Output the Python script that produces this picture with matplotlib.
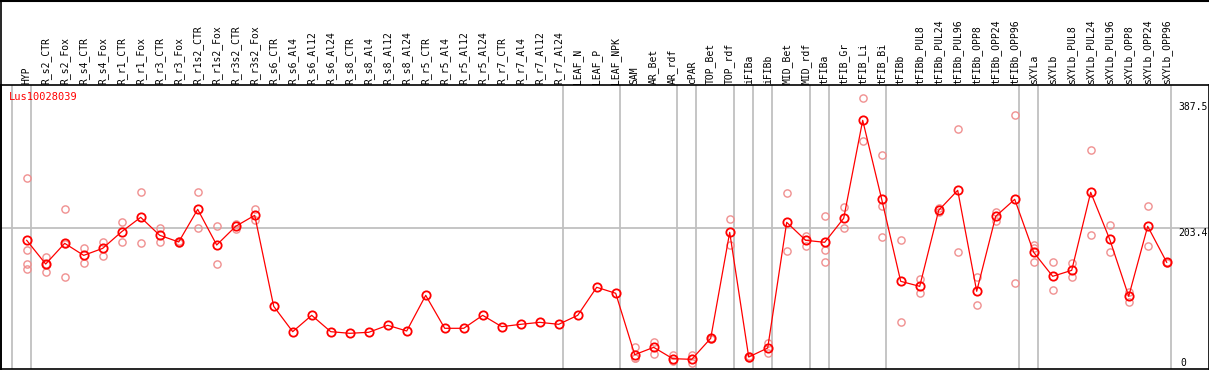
import matplotlib
matplotlib.use("Agg")
import matplotlib.pyplot as plt
from matplotlib.lines import Line2D

# sample names (x categories)
samples = ["HYP", "R_s2_CTR", "R_s2_Fox", "R_s4_CTR", "R_s4_Fox", "R_r1_CTR", "R_r1_Fox",
           "R_r3_CTR", "R_r3_Fox", "R_r1s2_CTR", "R_r1s2_Fox", "R_r3s2_CTR", "R_r3s2_Fox",
           "R_s6_CTR", "R_s6_Al4", "R_s6_Al12", "R_s6_Al24", "R_s8_CTR", "R_s8_Al4",
           "R_s8_Al12", "R_s8_Al24", "R_r5_CTR", "R_r5_Al4", "R_r5_Al12", "R_r5_Al24",
           "R_r7_CTR", "R_r7_Al4", "R_r7_Al12", "R_r7_Al24", "LEAF_N", "LEAF_P", "LEAF_NPK",
           "SAM", "AR_Bet", "AR_rdf", "cPAR", "TOP_Bet", "TOP_rdf", "iFIBa", "iFIBb",
           "MID_Bet", "MID_rdf", "tFIBa", "tFIB_Gr", "tFIB_Li", "tFIB_Bi", "tFIBb",
           "tFIBb_PUL8", "tFIBb_PUL24", "tFIBb_PUL96", "tFIBb_OPP8", "tFIBb_OPP24",
           "tFIBb_OPP96", "sXYLa", "sXYLb", "sXYLb_PUL8", "sXYLb_PUL24", "sXYLb_PUL96",
           "sXYLb_OPP8", "sXYLb_OPP24", "sXYLb_OPP96"]

# mean expression per sample
means = [185.9, 151.4, 181.5, 164.0, 174.2, 198.5, 219.4, 193.2, 183.5, 231.0, 179.1,
         206.3, 222.3, 89.8, 52.9, 76.7, 52.9, 50.5, 52.0, 62.2, 53.9, 105.8, 57.8, 57.8,
         76.7, 60.2, 63.6, 66.5, 63.6, 76.7, 117.5, 108.8, 19.4, 30.1, 13.6, 12.6, 43.2,
         197.5, 16.0, 29.1, 212.1, 185.9, 183.0, 218.0, 360.6, 245.6, 126.2, 118.9, 229.6,
         258.7, 111.7, 220.8, 245.6, 168.4, 133.5, 142.2, 255.8, 187.4, 104.4, 206.3, 153.9]

# individual replicates
replicates = [
    [276.2, 172.3, 151.9, 143.7], [161.2, 151.0, 140.2], [231.0, 181.0, 132.0],
    [174.2, 153.3], [183.0, 163.6], [212.1, 183.9], [255.8, 181.5], [203.8, 183.5],
    [185.0, 182.0], [255.8, 204.3], [206.3, 151.0], [209.2, 202.4], [231.5, 215.0],
    [], [], [], [], [], [], [], [], [], [], [], [], [], [], [], [], [], [], [],
    [30.1, 15.0, 14.0], [37.9, 20.4], [19.4, 10.2], [19.4, 6.8], [42.0, 44.0],
    [216.5, 179.1], [17.0, 15.0], [35.9, 21.4], [254.4, 169.9], [192.7, 178.1],
    [220.8, 172.3, 153.9], [234.4, 203.4], [392.7, 331.0], [309.7, 236.3, 190.3],
    [185.9, 66.5], [129.6, 108.8], [233.0, 226.7], [347.5, 168.4], [132.0, 91.3],
    [227.1, 214.5], [367.9, 123.3], [179.1, 174.2, 154.8], [153.9, 113.1],
    [152.4, 132.0], [316.9, 193.2], [207.8, 168.4], [110.7, 96.5], [235.4, 178.1],
    [155.0, 153.0]]

# vertical separators sit just right of these sample indices
group_ends = [-1, 0, 28, 31, 34, 35, 37, 38, 39, 41, 42, 45, 52, 53, 60]

gene = "Lus10028039"
ymax_label = 387.5
ymid_label = 203.4

W, H = 1209, 370
fig = plt.figure(figsize=(W / 100, H / 100), dpi=100)
ax = fig.add_axes([1 / W, 1 - 369 / H, 1207.5 / W, 284 / H])

xs = list(range(len(samples)))
for i in group_ends:
    ax.axvline(i + 0.2, color="#c0c0c0", lw=1.3, zorder=1)
ax.axhline(ymid_label, color="#c0c0c0", lw=1.3, zorder=1)

rx, ry = [], []
for i, reps in enumerate(replicates):
    for v in reps:
        rx.append(i)
        ry.append(v)
ax.plot(rx, ry, ls="none", marker="o", ms=5.2, mfc="none", mec="#f09090",
        mew=1.0, zorder=2)
ax.plot(xs, means, color="red", lw=0.9, marker="o", ms=6.0, mfc="none",
        mec="red", mew=1.3, zorder=3)

ax.set_xlim((1 - 26.7) / 19, (1208.5 - 26.7) / 19)
ax.set_ylim((368 - 369) / 0.6868, (368 - 85) / 0.6868)

ax.xaxis.tick_top()
ax.set_xticks(xs)
ax.set_xticklabels(samples, rotation=90, fontsize=7, family="DejaVu Sans Mono",
                   va="bottom", ha="center")
ax.tick_params(axis="x", length=0, pad=0.8)
ax.set_yticks([])
for s in ax.spines.values():
    s.set_color("black")
    s.set_linewidth(1.2)

# value labels on the right
lx = (1178 - 26.7) / 19
ax.text(lx, ymax_label, "%.1f" % ymax_label, fontsize=7, family="DejaVu Sans Mono",
        va="top", ha="left", clip_on=True)
ax.text(lx, ymid_label, "%.1f" % ymid_label, fontsize=7, family="DejaVu Sans Mono",
        va="top", ha="left", clip_on=True)
ax.text(lx + 0.1, 0, "0", fontsize=7, family="DejaVu Sans Mono", va="bottom",
        ha="left", clip_on=True)

# gene name
fig.text(9 / W, 1 - 92 / H, gene, color="red", fontsize=7.5,
         family="DejaVu Sans Mono", va="top", ha="left")

# outer border of whole image
fig.add_artist(Line2D([0, 1], [1 - 0.5 / H, 1 - 0.5 / H], color="black", lw=1.5))
fig.add_artist(Line2D([1 / W, 1 / W], [0, 1], color="black", lw=1.2))

fig.savefig("out.png", dpi=100)
